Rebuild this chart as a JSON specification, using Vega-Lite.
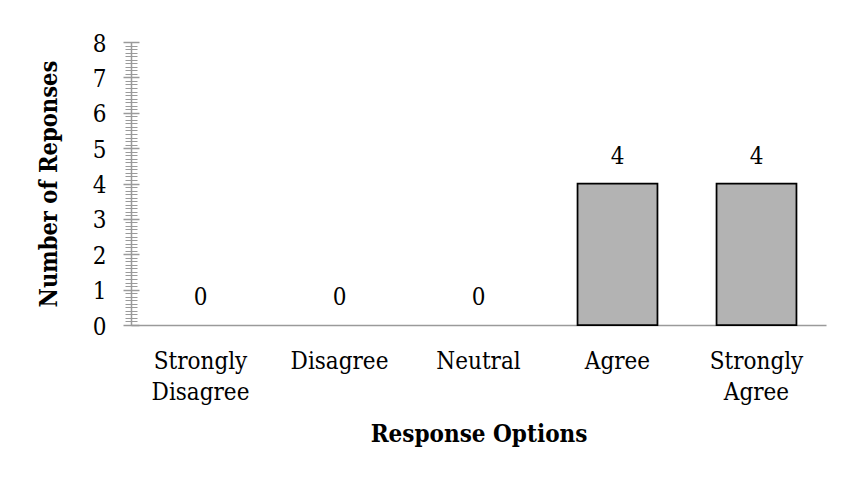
{
  "$schema": "https://vega.github.io/schema/vega-lite/v6.json",
  "width": 695,
  "height": 283,
  "autosize": "none",
  "padding": {"left": 131, "top": 42, "right": 22, "bottom": 158},
  "background": "white",
  "config": {
    "font": "DejaVu Serif Condensed",
    "view": {"stroke": null},
    "axis": {"grid": false, "labelColor": "#000000", "titleColor": "#000000"}
  },
  "data": {
    "values": [
      {"option": "Strongly Disagree", "count": 0},
      {"option": "Disagree", "count": 0},
      {"option": "Neutral", "count": 0},
      {"option": "Agree", "count": 4},
      {"option": "Strongly Agree", "count": 4}
    ]
  },
  "encoding": {
    "x": {
      "field": "option",
      "type": "nominal",
      "sort": ["Strongly Disagree", "Disagree", "Neutral", "Agree", "Strongly Agree"],
      "scale": {"paddingInner": 0.425, "paddingOuter": 0.2125},
      "axis": {
        "ticks": false,
        "tickSize": 0,
        "domainColor": "#9a9a9a",
        "domainWidth": 1.5,
        "labelAngle": 0,
        "labelFont": "DejaVu Serif Condensed",
        "labelFontSize": 24,
        "labelPadding": 24,
        "labelBaseline": "top",
        "labelLineHeight": 31.5,
        "labelExpr": "split(datum.label, ' ')",
        "title": "Response Options",
        "titleFont": "DejaVu Serif Condensed",
        "titleFontSize": 24,
        "titleFontWeight": "bold",
        "titleY": 116.7,
        "titleBaseline": "alphabetic"
      }
    }
  },
  "layer": [
    {
      "transform": [{"filter": "datum.count > 0"}],
      "mark": {"type": "bar", "fill": "#b3b3b3", "stroke": "#000000", "strokeWidth": 1.75},
      "encoding": {
        "y": {
          "field": "count",
          "type": "quantitative",
          "scale": {"domain": [0, 8], "nice": false},
          "axis": {
            "orient": "left",
            "values": [0, 1, 2, 3, 4, 5, 6, 7, 8],
            "ticks": false,
            "tickSize": 0,
            "domainColor": "#9a9a9a",
            "domainWidth": 1.5,
            "labelFont": "DejaVu Serif Condensed",
            "labelFontSize": 24,
            "labelPadding": 25,
            "labelBaseline": "middle",
            "labelOffset": 2,
            "title": "Number of Reponses",
            "titleFont": "DejaVu Serif Condensed",
            "titleFontSize": 23.5,
            "titleFontWeight": "bold",
            "titleAngle": -90,
            "titleX": -75,
            "titleY": 141.5,
            "titleAlign": "center",
            "titleBaseline": "alphabetic"
          }
        }
      }
    },
    {
      "mark": {"type": "text", "baseline": "alphabetic", "dy": -20, "fontSize": 24, "font": "DejaVu Serif Condensed", "color": "#000000"},
      "encoding": {
        "y": {"field": "count", "type": "quantitative", "axis": null},
        "text": {"field": "count", "type": "quantitative"}
      }
    },
    {
      "mark": {"type": "bar", "opacity": 0},
      "encoding": {
        "y": {
          "field": "count",
          "type": "quantitative",
          "axis": {
            "orient": "left",
            "values": [0, 1, 2, 3, 4, 5, 6, 7, 8],
            "domain": false,
            "labels": false,
            "title": null,
            "tickColor": "#9a9a9a",
            "tickWidth": 1.5,
            "tickSize": 16,
            "offset": -8
          }
        }
      }
    },
    {
      "mark": {"type": "bar", "opacity": 0},
      "encoding": {
        "y": {
          "field": "count",
          "type": "quantitative",
          "axis": {
            "orient": "left",
            "values": [0.1, 0.2, 0.3, 0.4, 0.5, 0.6, 0.7, 0.8, 0.9, 1.1, 1.2, 1.3, 1.4, 1.5, 1.6, 1.7, 1.8, 1.9, 2.1, 2.2, 2.3, 2.4, 2.5, 2.6, 2.7, 2.8, 2.9, 3.1, 3.2, 3.3, 3.4, 3.5, 3.6, 3.7, 3.8, 3.9, 4.1, 4.2, 4.3, 4.4, 4.5, 4.6, 4.7, 4.8, 4.9, 5.1, 5.2, 5.3, 5.4, 5.5, 5.6, 5.7, 5.8, 5.9, 6.1, 6.2, 6.3, 6.4, 6.5, 6.6, 6.7, 6.8, 6.9, 7.1, 7.2, 7.3, 7.4, 7.5, 7.6, 7.7, 7.8, 7.9],
            "domain": false,
            "labels": false,
            "title": null,
            "tickColor": "#9a9a9a",
            "tickWidth": 1,
            "tickSize": 12,
            "offset": -6
          }
        }
      }
    }
  ],
  "resolve": {"axis": {"y": "independent"}}
}
